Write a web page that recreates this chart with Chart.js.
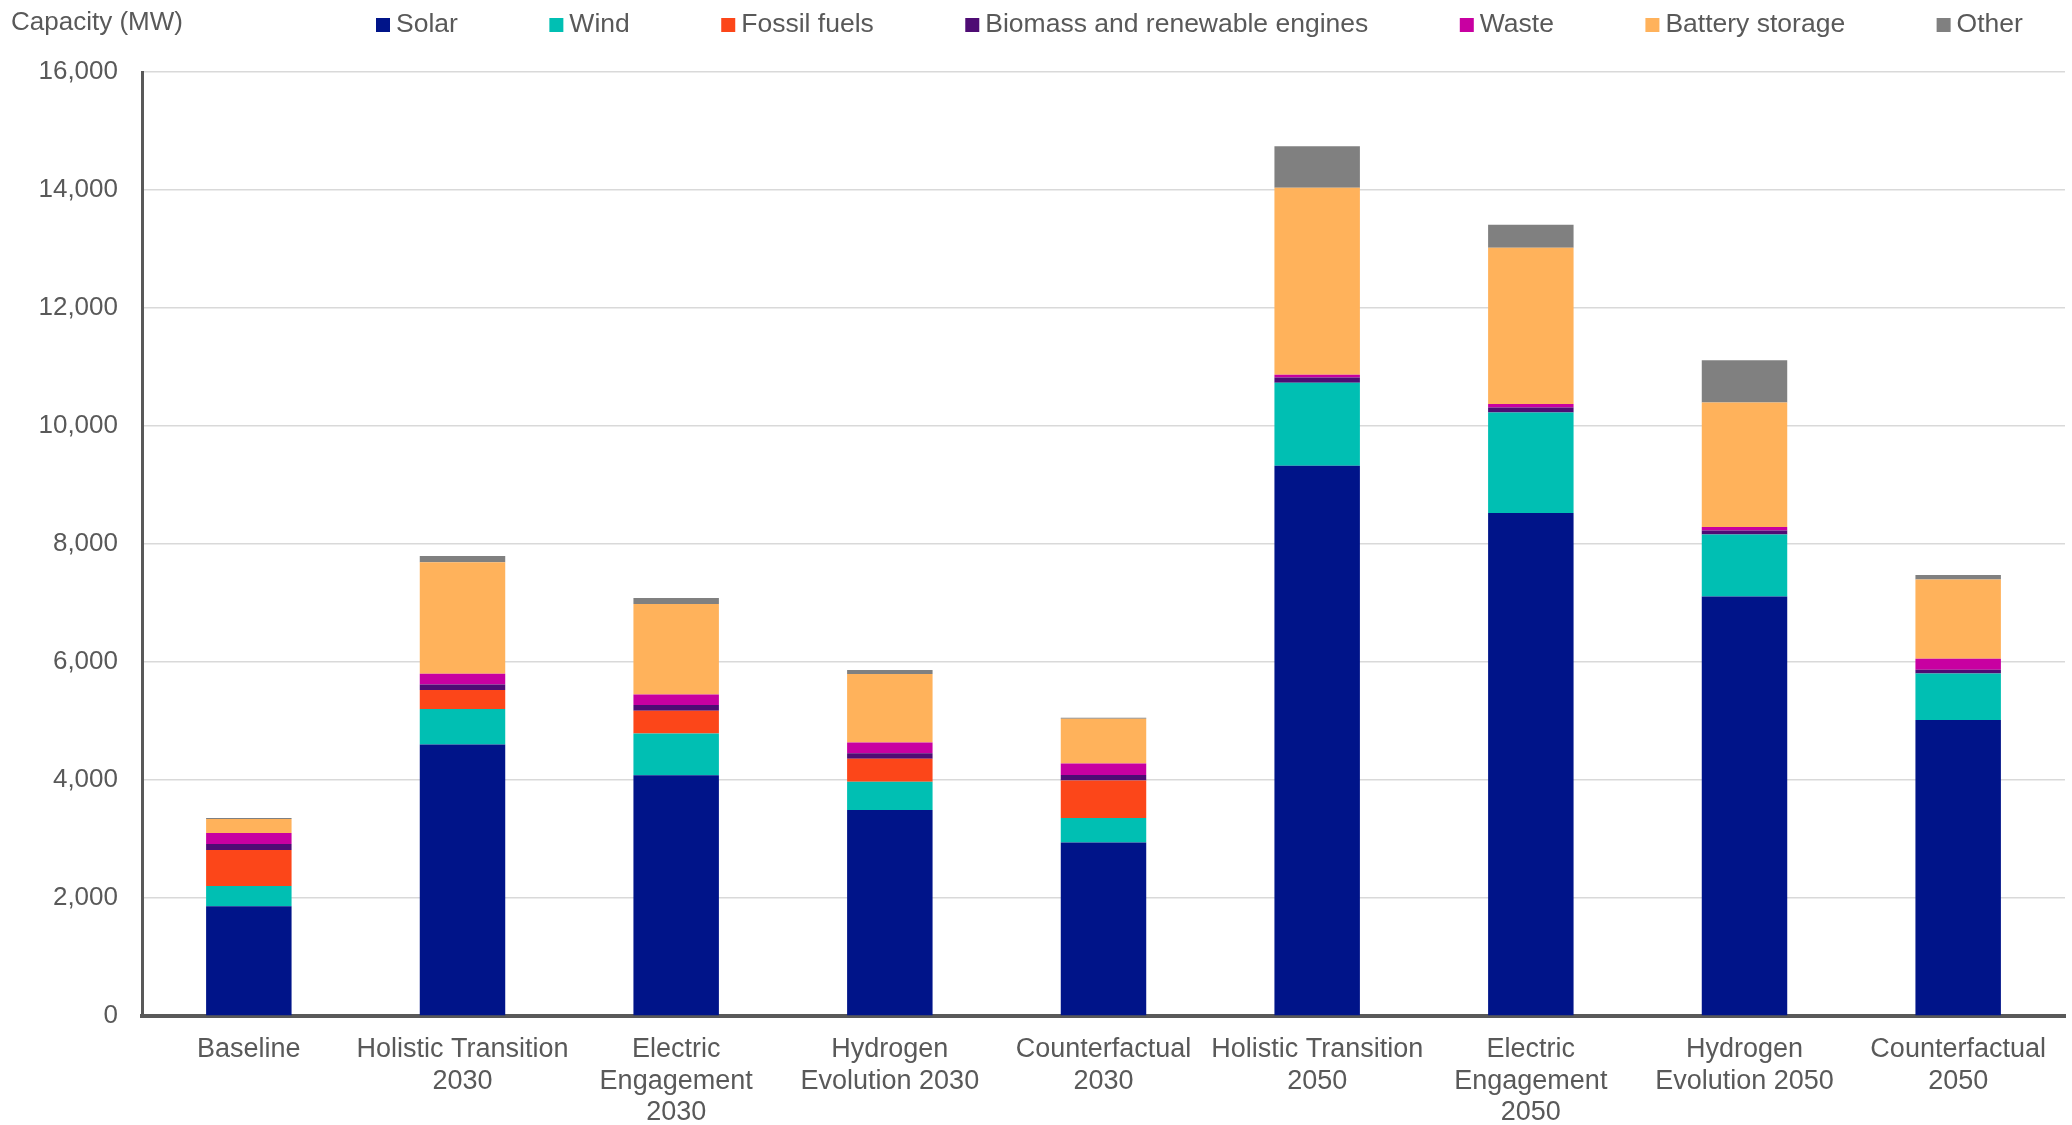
<!DOCTYPE html>
<html>
<head>
<meta charset="utf-8">
<script src="https://cdn.jsdelivr.net/npm/chart.js@4.4.1/dist/chart.umd.min.js"></script>
<style>
  html, body { margin: 0; padding: 0; background: #fff; }
  #wrap { width: 2072px; height: 1125px; }
</style>
</head>
<body>
<div id="wrap"><canvas id="capacityChart" width="2072" height="1125"></canvas></div>
<script>
// scenarios on the x axis (multi-line labels)
const scenarios = [
  'Baseline',
  ['Holistic Transition', '2030'],
  ['Electric', 'Engagement', '2030'],
  ['Hydrogen', 'Evolution 2030'],
  ['Counterfactual', '2030'],
  ['Holistic Transition', '2050'],
  ['Electric', 'Engagement', '2050'],
  ['Hydrogen', 'Evolution 2050'],
  ['Counterfactual', '2050']
];

// capacity in MW
const solar   = [1860, 4600, 4080, 3490, 2940, 9325, 8525, 7110, 5015];
const wind    = [ 345,  605,  710,  480,  415, 1410, 1705, 1050,  790];
const fossil  = [ 610,  320,  385,  390,  635,    0,    0,    0,    0];
const biomass = [ 100,   95,   95,   95,   95,   85,   85,   70,   65];
const waste   = [ 185,  180,  180,  180,  195,   50,   60,   60,  185];
const battery = [ 240, 1890, 1535, 1160,  760, 3170, 2645, 2110, 1345];
const other   = [  15,  105,  100,   70,   15,  700,  390,  715,   75];

const yTicks = [0, 2000, 4000, 6000, 8000, 10000, 12000, 14000, 16000];

const textColor = '#595959';
const fontFamily = '"Liberation Sans", Arial, sans-serif';

// legend + axis title drawn across the top, Excel style
const topLegend = {
  id: 'topLegend',
  afterDraw(chart) {
    const ctx = chart.ctx;
    ctx.save();
    ctx.textBaseline = 'middle';
    ctx.fillStyle = textColor;
    ctx.font = '26px ' + fontFamily;
    ctx.fillText('Capacity (MW)', 11, 23);
    ctx.font = '26.5px ' + fontFamily;
    let x = 376;
    chart.data.datasets.forEach(ds => {
      ctx.fillStyle = ds.backgroundColor;
      ctx.fillRect(x, 18, 14, 14);
      ctx.fillStyle = textColor;
      ctx.fillText(ds.label, x + 20, 25);
      x += 20 + ctx.measureText(ds.label).width + 91.5;
    });
    ctx.restore();
  }
};

const ctx = document.getElementById('capacityChart').getContext('2d');
new Chart(ctx, {
  type: 'bar',
  data: {
    labels: scenarios,
    datasets: [
      { label: 'Solar', data: solar, backgroundColor: '#001489' },
      { label: 'Wind', data: wind, backgroundColor: '#00BFB3' },
      { label: 'Fossil fuels', data: fossil, backgroundColor: '#FC4619' },
      { label: 'Biomass and renewable engines', data: biomass, backgroundColor: '#4E0C74' },
      { label: 'Waste', data: waste, backgroundColor: '#C800A1' },
      { label: 'Battery storage', data: battery, backgroundColor: '#FFB25B' },
      { label: 'Other', data: other, backgroundColor: '#808080' }
    ].map(ds => Object.assign(ds, { barPercentage: 1, categoryPercentage: 0.4, borderWidth: 0 }))
  },
  options: {
    responsive: false,
    devicePixelRatio: 1,
    animation: false,
    layout: { padding: { top: 72, right: 7, bottom: 0, left: 0 } },
    plugins: {
      legend: { display: false },
      tooltip: { enabled: false }
    },
    scales: {
      x: {
        stacked: true,
        afterFit: s => { s.height = 109; },
        grid: { display: false, drawTicks: false },
        border: { display: true, color: '#595959', width: 4 },
        ticks: {
          color: textColor,
          font: { family: fontFamily, size: 27, lineHeight: 1.17 },
          padding: 18,
          maxRotation: 0,
          autoSkip: false
        }
      },
      y: {
        stacked: true,
        min: 0,
        max: 16000,
        afterFit: s => { s.width = 142; },
        afterBuildTicks: s => { s.ticks = yTicks.map(v => ({ value: v })); },
        grid: { color: '#D9D9D9', lineWidth: 1.5, drawTicks: false },
        border: { display: true, color: '#595959', width: 3 },
        ticks: {
          color: textColor,
          font: { family: fontFamily, size: 26 },
          padding: 24,
          callback: v => v.toLocaleString('en-US')
        }
      }
    }
  },
  plugins: [topLegend]
});
</script>
</body>
</html>
